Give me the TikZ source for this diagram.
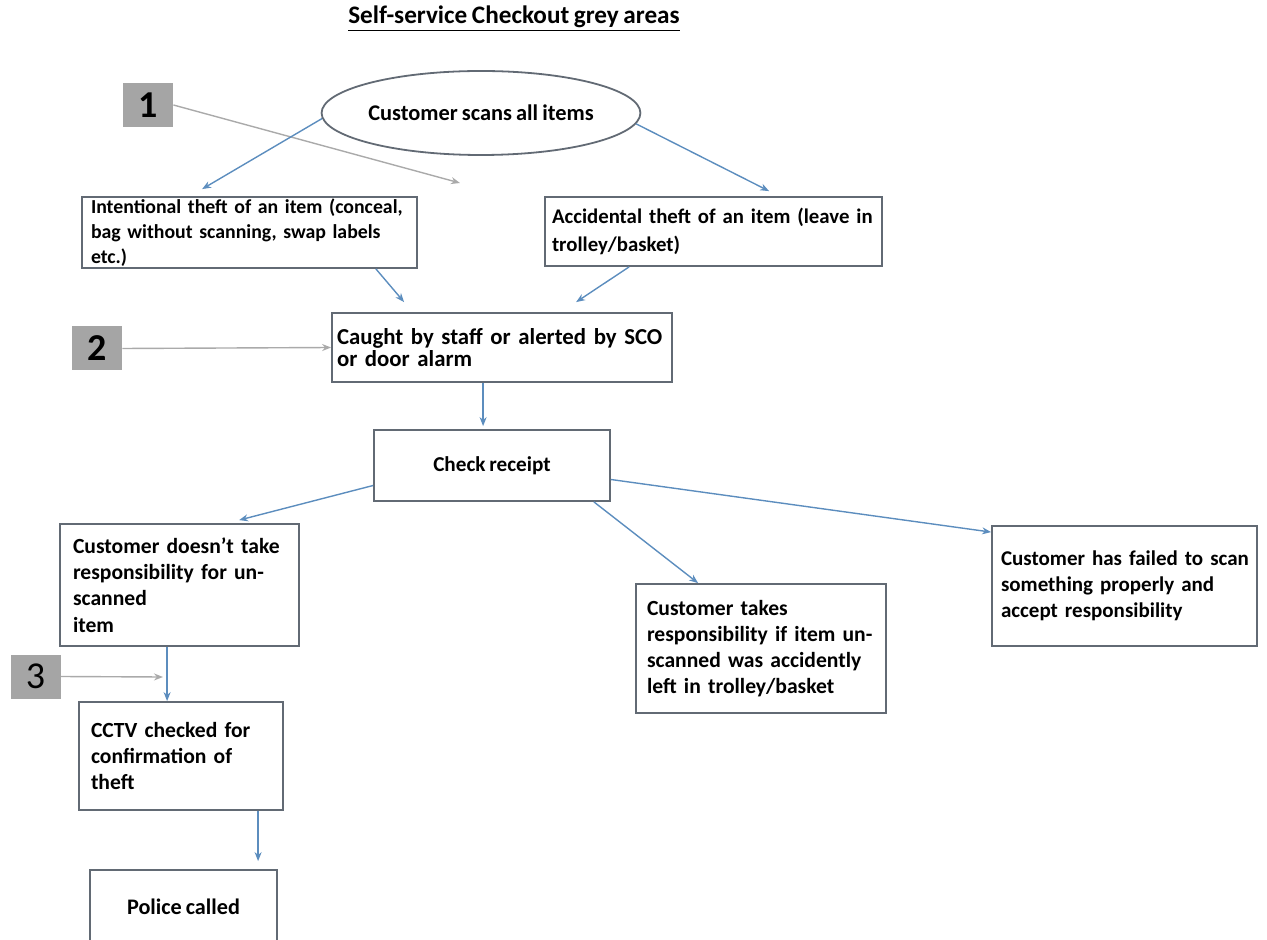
\documentclass[tikz,border=0pt]{standalone}
\usepackage{fontspec}
\setmainfont{Carlito}[WordSpace=0.8]
\usetikzlibrary{arrows.meta,shapes.geometric}
\definecolor{flowblue}{RGB}{92,141,190}
\definecolor{markgrey}{RGB}{165,165,165}
\definecolor{boxline}{RGB}{98,106,116}
\definecolor{pointgrey}{RGB}{170,170,170}
\begin{document}
\begin{tikzpicture}[x=0.5pt,y=-0.5pt,font=\fontsize{10.8}{13.2}\selectfont\bfseries,
	stage/.style={draw=boxline,line width=0.9pt,align=left,inner ysep=0pt,inner xsep=6pt},
	tag/.style={fill=markgrey,minimum width=25pt,minimum height=22pt,inner sep=0pt,font=\fontsize{19}{20}\selectfont\bfseries},
	flow/.style={draw=flowblue,line width=0.7pt,-{Stealth[length=4.5pt,width=3.5pt]}},
	pointer/.style={draw=pointgrey,line width=0.7pt,-{Stealth[length=4.5pt,width=3.5pt]}}]
		\useasboundingbox (0,0) rectangle (1267,940);
		\node[font=\fontsize{12.6}{14}\selectfont\bfseries] (title) at (514,19) {\underline{Self-service Checkout grey areas}};
		\node[ellipse,draw=boxline,line width=0.9pt,minimum width=154pt,minimum height=42pt,inner sep=0pt,font=\fontsize{11.2}{13}\selectfont\bfseries] (scan) at (481,113) {Customer scans all items};
		\node[stage,text width=158.5pt,inner xsep=4.5pt,minimum height=35.5pt,font=\fontsize{9.9}{12.5}\selectfont\bfseries] (theft) at (249.5,232.5) {\mbox{Intentional theft of an item (conceal,}\\bag without scanning, swap labels\\etc.)};
		\node[stage,text width=161.5pt,inner xsep=3.5pt,minimum height=34.5pt,font=\fontsize{10.4}{14}\selectfont\bfseries] (accident) at (713.5,231.5) {\mbox{Accidental theft of an item (leave in}\\trolley/basket)};
		\node[stage,text width=165pt,inner xsep=2.5pt,minimum height=34.5pt,font=\fontsize{11.4}{11}\selectfont\bfseries] (caught) at (502,347.5) {\mbox{Caught by staff or alerted by SCO}\\or door alarm};
		\node[stage,align=center,minimum width=118pt,minimum height=35.5pt,font=\fontsize{10.6}{13}\selectfont\bfseries] (receipt) at (492,465.5) {Check receipt};
		\node[stage,text width=106.5pt,inner xsep=6.5pt,minimum height=61pt] (denies) at (179.5,585) {Customer doesn’t take\\responsibility for un-\\scanned\\item};
		\node[stage,text width=114pt,inner xsep=5.5pt,minimum height=64.5pt,font=\fontsize{10.8}{13}\selectfont\bfseries] (admits) at (761,648.5) {Customer takes\\\mbox{responsibility if item un-}\\scanned was accidently\\left in trolley/basket};
		\node[stage,text width=123.5pt,inner xsep=4.5pt,minimum height=60pt,font=\fontsize{10.5}{13}\selectfont\bfseries] (failed) at (1124.5,586) {\mbox{Customer has failed to scan}\\something properly and\\accept responsibility};
		\node[stage,text width=90pt,inner xsep=6pt,minimum height=54pt] (cctv) at (181,756) {CCTV checked for\\confirmation of\\theft};
		\node[stage,align=center,minimum width=93.5pt,minimum height=37pt,font=\fontsize{11.1}{13}\selectfont\bfseries] (police) at (183.5,907) {Police called};
		\node[tag] (one) at (148,105) {1};
		\node[tag] (two) at (97,348.5) {2};
		\node[tag,font=\fontsize{19}{20}\selectfont\mdseries] (three) at (35.5,676.5) {3};
		\coordinate (oneend) at (460,183);
		\coordinate (threeend) at (163,677);
		\draw[pointer] (one.east) -- (oneend);
		\draw[pointer] (two.east) -- (caught.west);
		\draw[pointer] (three.east) -- (threeend);
		\draw[flow] (scan.182) -- ([xshift=60.5pt,yshift=3.5pt]theft.north west);
		\draw[flow] (scan.-4) -- ([xshift=112.5pt,yshift=2.5pt]accident.north west);
		\draw[flow] ([xshift=-21pt]theft.south east) -- ([xshift=36.5pt,yshift=5pt]caught.north west);
		\draw[flow] ([xshift=42.5pt]accident.south west) -- ([xshift=122.5pt,yshift=5pt]caught.north west);
		\draw[flow] ([xshift=76pt]caught.south west) -- ([xshift=55pt,yshift=1.5pt]receipt.north west);
		\draw[flow] ([yshift=-10pt]receipt.west) -- ([xshift=90pt,yshift=1.5pt]denies.north west);
		\draw[flow] ([xshift=-8.5pt]receipt.south east) -- ([xshift=31.5pt]admits.north west);
		\draw[flow] ([yshift=-7pt]receipt.east) -- ([yshift=-3.5pt]failed.north west);
		\draw[flow] ([xshift=54pt]denies.south west) -- ([xshift=44.5pt]cctv.north west);
		\draw[flow] ([xshift=90pt]cctv.south west) -- ([xshift=84.5pt,yshift=4pt]police.north west);
	\end{tikzpicture}
\end{document}
